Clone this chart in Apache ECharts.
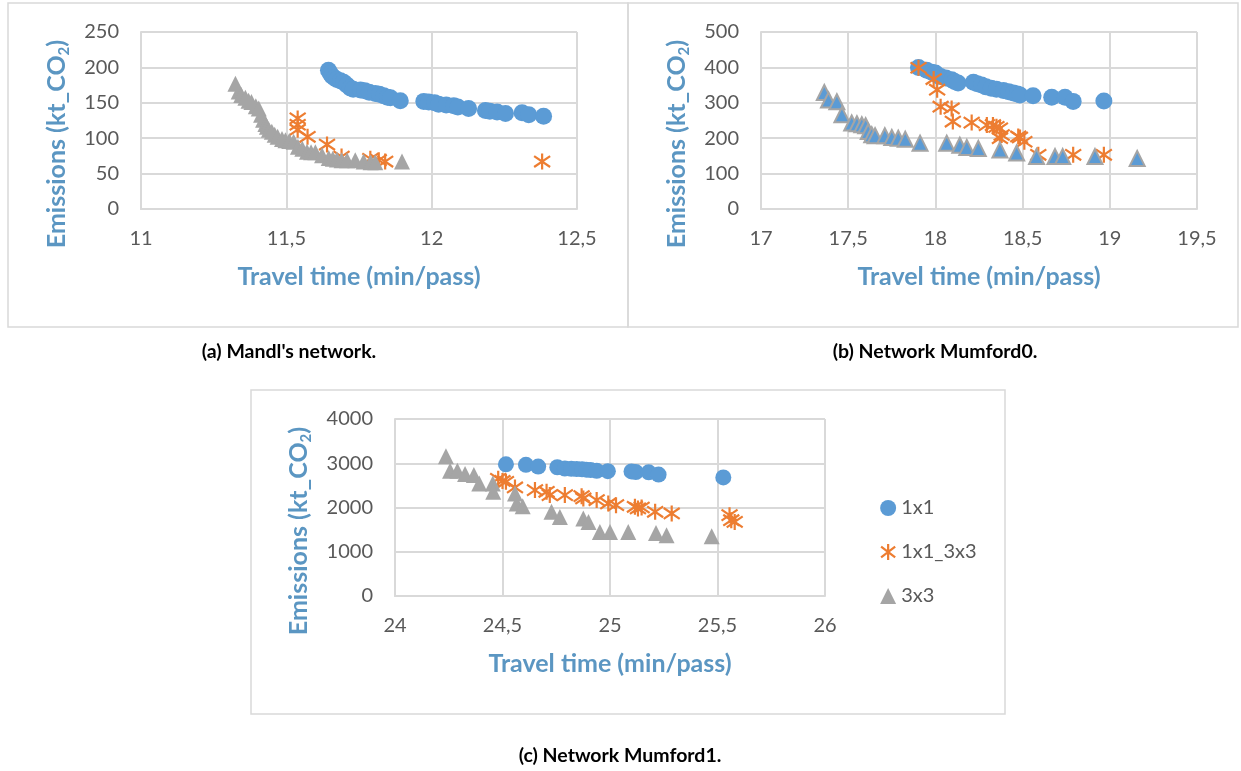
<!DOCTYPE html>
<html>
<head>
<meta charset="utf-8">
<script src="https://cdn.jsdelivr.net/npm/echarts@6/dist/echarts.min.js"></script>
<style>
html,body{margin:0;padding:0;background:#fff;}
#c{width:1241px;height:771px;}
</style>
</head>
<body>
<div id="c"></div>
<script>
// ---------------- data ----------------
const seriesNames = ['1x1', '1x1_3x3', '3x3'];
const captions = ["(a) Mandl's network.", "(b) Network Mumford0.", "(c) Network Mumford1."];
const xTitle = 'Travel time (min/pass)';

// (a) Mandl's network
const mandl_1x1 = [[11.645,196],[11.652,191],[11.657,188],[11.666,185],[11.674,183],[11.686,181],[11.697,179],[11.708,175],[11.72,171],[11.73,169],[11.755,168],[11.77,167],[11.785,165],[11.806,163],[11.82,162],[11.835,160],[11.848,158],[11.858,157],[11.892,153],[11.973,152],[11.99,151],[12.01,150],[12.024,148],[12.05,147],[12.076,146],[12.09,144],[12.127,142],[12.185,139],[12.2,138],[12.225,137],[12.254,135],[12.311,136],[12.334,133],[12.385,131]];
const mandl_1x1_3x3 = [[11.539,128],[11.539,119],[11.539,112],[11.573,102],[11.64,91],[11.69,74],[11.789,71],[11.818,69],[11.84,67],[12.38,67]];
const mandl_3x3 = [[11.325,177],[11.336,166],[11.345,161],[11.359,157],[11.37,153],[11.38,151],[11.395,145],[11.405,142],[11.413,133],[11.42,126],[11.428,120],[11.433,116],[11.44,112],[11.45,109],[11.46,105],[11.47,102],[11.485,99],[11.497,97],[11.51,96],[11.525,95],[11.54,88],[11.555,85],[11.571,81],[11.585,80],[11.6,80],[11.623,76],[11.646,72],[11.66,71],[11.674,70],[11.69,69],[11.709,69],[11.737,69],[11.766,67],[11.79,66],[11.806,66],[11.898,67]];

// (b) Network Mumford0
const m0_1x1 = [[17.903,400],[17.95,392],[17.979,386],[18.0,384],[18.017,376],[18.03,374],[18.06,370],[18.093,365],[18.11,360],[18.13,356],[18.218,358],[18.24,354],[18.265,350],[18.29,345],[18.32,341],[18.35,338],[18.39,335],[18.42,331],[18.447,328],[18.47,325],[18.485,322],[18.56,320],[18.667,316],[18.743,316],[18.79,304],[18.966,305]];
const m0_1x1_3x3 = [[17.903,399],[17.99,367],[18.01,337],[18.03,289],[18.093,284],[18.1,247],[18.208,244],[18.295,237],[18.33,237],[18.35,232],[18.37,228],[18.38,209],[18.37,200],[18.475,205],[18.485,202],[18.51,190],[18.59,153],[18.79,153],[18.966,153]];
const m0_3x3 = [[17.363,329],[17.387,308],[17.435,303],[17.464,266],[17.52,243],[17.55,241],[17.578,238],[17.6,235],[17.615,219],[17.635,210],[17.654,207],[17.71,207],[17.75,202],[17.787,200],[17.827,197],[17.912,186],[18.065,186],[18.14,180],[18.18,174],[18.246,171],[18.37,167],[18.466,158],[18.58,148],[18.686,148],[18.73,148],[18.915,148],[19.157,143]];

// (c) Network Mumford1
const m1_1x1 = [[24.516,2975],[24.609,2965],[24.666,2925],[24.755,2910],[24.79,2880],[24.82,2875],[24.845,2870],[24.87,2862],[24.89,2855],[24.91,2846],[24.938,2830],[24.99,2820],[25.1,2815],[25.12,2800],[25.18,2795],[25.226,2745],[25.527,2680]];
const m1_1x1_3x3 = [[24.48,2650],[24.5,2600],[24.516,2581],[24.558,2454],[24.651,2393],[24.705,2355],[24.72,2280],[24.79,2280],[24.868,2257],[24.876,2205],[24.938,2167],[24.992,2092],[25.028,2053],[25.116,2015],[25.13,1978],[25.147,2000],[25.21,1902],[25.287,1865],[25.556,1827],[25.564,1713],[25.58,1675]];
const m1_3x3 = [[24.237,3160],[24.256,2830],[24.29,2830],[24.326,2755],[24.367,2733],[24.392,2545],[24.455,2545],[24.457,2355],[24.558,2318],[24.566,2092],[24.594,2030],[24.728,1902],[24.767,1788],[24.876,1752],[24.9,1675],[24.953,1449],[25.0,1449],[25.085,1449],[25.214,1426],[25.263,1374],[25.473,1352]];

// axis ranges
const xRanges = [[11, 12.5, 0.5], [17, 19.5, 0.5], [24, 26, 0.5]];
const yRanges = [[0, 250, 50], [0, 500, 100], [0, 4000, 1000]];

// ---------------- style ----------------
const FONT = 'Lato';
const BLUE = '#5b9bd5', ORANGE = '#ed7d31', GRAY = '#a5a5a5';
const TITLE_C = '#5b96c2', TICK_C = '#595959', GRID_C = '#d9d9d9';
const STAR = 'path://M5,0L5,10M0.6,1.6L9.4,8.4M9.4,1.6L0.6,8.4';

const grids = [
  {left: 141, top: 32, width: 436, height: 177},
  {left: 761, top: 32, width: 436, height: 177},
  {left: 395, top: 419, width: 430, height: 177}
];
const yTitlePos = [[57, 144], [677, 144], [299, 531]];

const chart = echarts.init(document.getElementById('c'), null, {renderer: 'canvas'});

const xAxes = xRanges.map((r, i) => ({
  type: 'value', gridIndex: i, min: r[0], max: r[1], interval: r[2],
  name: xTitle, nameLocation: 'middle', nameGap: 55,
  nameTextStyle: {fontFamily: FONT, fontSize: 25, fontWeight: 'bold', color: TITLE_C},
  axisLine: {show: true, lineStyle: {color: GRID_C, width: 2}},
  axisTick: {show: false},
  splitLine: {show: true, lineStyle: {color: GRID_C, width: 2}},
  axisLabel: {fontFamily: FONT, fontSize: 20, color: TICK_C, margin: 20,
    formatter: v => String(+v.toFixed(2)).replace('.', ',')}
}));

const yAxes = yRanges.map((r, i) => ({
  type: 'value', gridIndex: i, min: r[0], max: r[1], interval: r[2],
  axisLine: {show: true, lineStyle: {color: GRID_C, width: 2}},
  axisTick: {show: false},
  splitLine: {show: true, lineStyle: {color: GRID_C, width: 2}},
  axisLabel: {fontFamily: FONT, fontSize: 20, color: TICK_C, margin: 22,
    formatter: v => String(v)}
}));

function circle(data, i, size) {
  return {name: '1x1', type: 'scatter', xAxisIndex: i, yAxisIndex: i, data,
    symbol: 'circle', symbolSize: size, itemStyle: {color: BLUE, opacity: 1}, z: 2};
}
function star(data, i, size) {
  return {name: '1x1_3x3', type: 'scatter', xAxisIndex: i, yAxisIndex: i, data,
    symbol: STAR, symbolSize: size,
    itemStyle: {color: 'rgba(0,0,0,0)', borderColor: ORANGE, borderWidth: 2.2, opacity: 1}, z: 3};
}
function tri(data, i, size, fill, border) {
  return {name: '3x3', type: 'scatter', xAxisIndex: i, yAxisIndex: i, data,
    symbol: 'triangle', symbolSize: size,
    itemStyle: {color: fill, borderColor: border, borderWidth: border ? 2 : 0, opacity: 1}, z: 4};
}

const series = [
  circle(mandl_1x1, 0, 17), star(mandl_1x1_3x3, 0, 16), tri(mandl_3x3, 0, 16, GRAY, null),
  circle(m0_1x1, 1, 17), star(m0_1x1_3x3, 1, 16), tri(m0_3x3, 1, 15, BLUE, GRAY),
  circle(m1_1x1, 2, 16), star(m1_1x1_3x3, 2, 16), tri(m1_3x3, 2, 16, GRAY, null)
];

const boxStyle = {fill: 'none', stroke: GRID_C, lineWidth: 1.5};
const capStyle = t => ({text: t, fontFamily: FONT, fontWeight: 'bold', fontSize: 19.5, fill: '#000', align: 'center', verticalAlign: 'middle'});
const yTitleStyle = {
  text: '{a|Emissions (kt_CO}{s|2}{a|)}', align: 'center', verticalAlign: 'middle',
  rich: {
    a: {fontFamily: FONT, fontSize: 25, fontWeight: 'bold', fill: TITLE_C, lineHeight: 30},
    s: {fontFamily: FONT, fontSize: 15, fontWeight: 'bold', fill: TITLE_C, lineHeight: 16, verticalAlign: 'bottom'}
  }
};

const option = {
  animation: false,
  backgroundColor: '#ffffff',
  grid: grids,
  xAxis: xAxes,
  yAxis: yAxes,
  series,
  legend: {
    orient: 'vertical', left: 875, top: 493, itemGap: 24, itemWidth: 16, itemHeight: 16,
    textStyle: {fontFamily: FONT, fontSize: 20, color: TICK_C},
    data: [
      {name: '1x1', icon: 'circle', itemStyle: {color: BLUE}},
      {name: '1x1_3x3', icon: STAR, itemStyle: {color: 'rgba(0,0,0,0)', borderColor: ORANGE, borderWidth: 2.2}},
      {name: '3x3', icon: 'triangle', itemStyle: {color: GRAY, borderWidth: 0}}
    ]
  },
  graphic: [
    {type: 'rect', shape: {x: 8, y: 3, width: 620, height: 324}, style: boxStyle, silent: true, z: -1},
    {type: 'rect', shape: {x: 628, y: 3, width: 610, height: 324}, style: boxStyle, silent: true, z: -1},
    {type: 'rect', shape: {x: 251, y: 390, width: 754, height: 324}, style: boxStyle, silent: true, z: -1},
    {type: 'text', x: 289, y: 352, style: capStyle(captions[0])},
    {type: 'text', x: 935, y: 352, style: capStyle(captions[1])},
    {type: 'text', x: 620, y: 756, style: capStyle(captions[2])}
  ].concat(yTitlePos.map(p => ({type: 'text', x: p[0], y: p[1], rotation: Math.PI / 2, style: yTitleStyle})))
};
chart.setOption(option);
</script>
</body>
</html>
